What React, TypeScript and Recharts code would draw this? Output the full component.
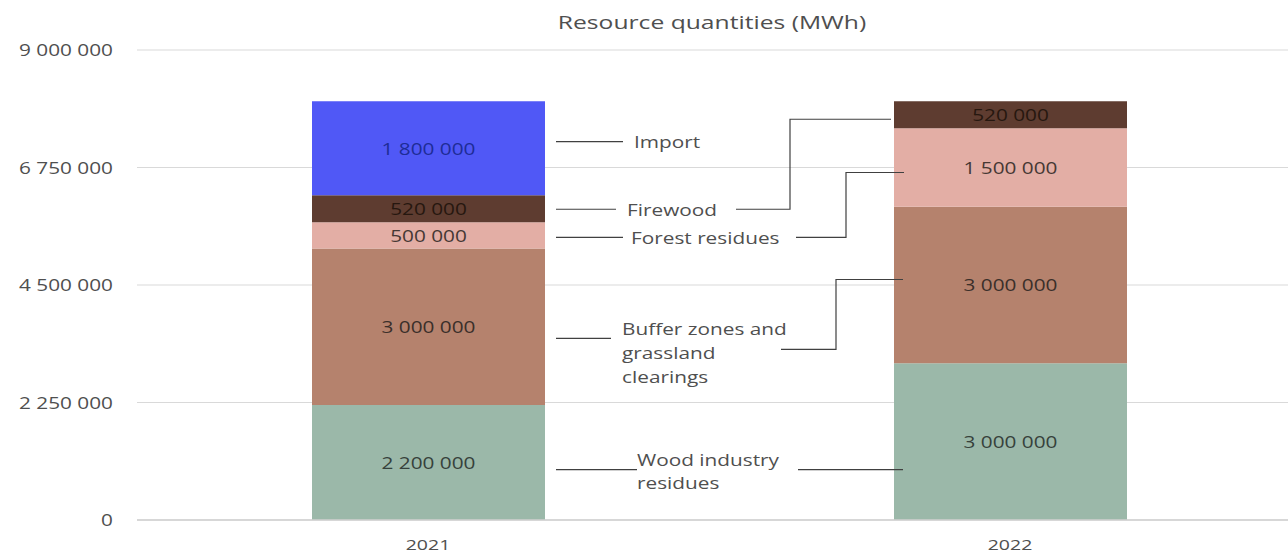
import React from 'react';
import { BarChart, Bar, XAxis, YAxis, CartesianGrid, LabelList } from 'recharts';

// ---------- data ----------
const years = ['2021', '2022'];
const woodIndustry = [2200000, 3000000];
const bufferZones = [3000000, 3000000];
const forestResidues = [500000, 1500000];
const firewood = [520000, 520000];
const importQty = [1800000, 0];
const yTicks = [0, 2250000, 4500000, 6750000, 9000000];
const chartTitle = 'Resource quantities (MWh)';

const seriesKeys = ['wood', 'buffer', 'forest', 'firewood', 'import'];
const seriesValues: Record<string, number[]> = {
  wood: woodIndustry,
  buffer: bufferZones,
  forest: forestResidues,
  firewood: firewood,
  import: importQty,
};
const seriesNames: Record<string, string[]> = {
  wood: ['Wood industry', 'residues'],
  buffer: ['Buffer zones and', 'grassland', 'clearings'],
  forest: ['Forest residues'],
  firewood: ['Firewood'],
  import: ['Import'],
};

const data = years.map((year, i) => ({
  year,
  wood: woodIndustry[i],
  buffer: bufferZones[i],
  forest: forestResidues[i],
  firewood: firewood[i],
  import: importQty[i],
}));

// ---------- styles ----------
const FONT = '"Open Sans", "Liberation Sans", sans-serif';
const SX = 1.3;
const COLORS: Record<string, string> = {
  wood: '#9bb8a9',
  buffer: '#b5826d',
  forest: '#e3aea5',
  firewood: '#5e3c30',
  import: '#5058f6',
};
const VALUE_COLORS: Record<string, string> = {
  wood: '#36413b',
  buffer: '#3a2f2a',
  forest: '#463834',
  firewood: '#26170f',
  import: '#1e2c96',
};
const TEXT_GREY = '#4f4f4f';
const LEADER = '#404040';

type Conn = { startX: number; elbowX: number | null; endX: number; startDy: number; endDy: number };
type Ann = { dy: number; lineEnd: number; textX: number; textDy: number; lineH: number; conn: Conn | null };
const ANNOT: Record<string, Ann> = {
  import: { dy: -6.5, lineEnd: 78, textX: 89, textDy: 0, lineH: 24, conn: null },
  firewood: { dy: 0.5, lineEnd: 71, textX: 82, textDy: 0, lineH: 24, conn: { startX: -158, elbowX: -104, endX: -3, startDy: 0.5, endDy: 4.5 } },
  forest: { dy: 2, lineEnd: 78, textX: 86, textDy: 0, lineH: 24, conn: { startX: -98, elbowX: -48, endX: 10, startDy: 2, endDy: 5 } },
  buffer: { dy: 11.5, lineEnd: 66, textX: 77, textDy: -10, lineH: 24, conn: { startX: -113, elbowX: -58, endX: 9, startDy: 22.5, endDy: -5.5 } },
  wood: { dy: 7, lineEnd: 92, textX: 92, textDy: -10, lineH: 23, conn: { startX: -96, elbowX: null, endX: 9, startDy: 7, endDy: 0 } },
};

const fmt = (n: number) => String(n).replace(/\B(?=(\d{3})+(?!\d))/g, ' ');

const SText = ({ x, y, anchor = 'start', fill = TEXT_GREY, size = 16, sx = SX, children }: any) => (
  <text
    transform={`translate(${x},${y}) scale(${sx},1)`}
    textAnchor={anchor}
    dominantBaseline="central"
    fill={fill}
    fontFamily={FONT}
    fontSize={size}
  >
    {children}
  </text>
);

const makeLabel = (key: string) => (props: any) => {
  const vb = props.viewBox || props;
  const X = Number(vb.x ?? props.x);
  const Y = Number(vb.y ?? props.y);
  const W = Number(vb.width ?? props.width);
  const H = Number(vb.height ?? props.height);
  const v = Number(props.value);
  const index = props.index;
  if (!v || !isFinite(X)) return null;
  const a = ANNOT[key];
  const si = seriesKeys.indexOf(key);
  const els: any[] = [];
  els.push(
    <SText key="v" x={X + W / 2} y={Y + H / 2} anchor="middle" fill={VALUE_COLORS[key]}>
      {fmt(v)}
    </SText>
  );
  if (index === 0) {
    const right = X + W;
    const cy = Y + H / 2 + a.dy;
    els.push(<line key="l" x1={right + 11} x2={right + a.lineEnd} y1={cy} y2={cy} stroke={LEADER} strokeWidth={1.2} />);
    seriesNames[key].forEach((t, k) => {
      els.push(
        <SText key={`t${k}`} x={right + a.textX} y={cy + a.textDy + k * a.lineH}>
          {t}
        </SText>
      );
    });
  } else if (index === 1 && a.conn) {
    const ppu = H / v;
    let below22 = 0;
    let below21 = 0;
    for (let k = 0; k < si; k++) {
      below22 += seriesValues[seriesKeys[k]][1];
      below21 += seriesValues[seriesKeys[k]][0];
    }
    const base = Y + H + below22 * ppu;
    const c21 = base - (below21 + seriesValues[key][0] / 2) * ppu;
    const c22 = Y + H / 2;
    const c = a.conn;
    const sy = c21 + c.startDy;
    let pts: string;
    if (c.elbowX === null) {
      pts = `${X + c.startX},${sy} ${X + c.endX},${sy}`;
    } else {
      const ey = c22 + c.endDy;
      pts = `${X + c.startX},${sy} ${X + c.elbowX},${sy} ${X + c.elbowX},${ey} ${X + c.endX},${ey}`;
    }
    els.push(<polyline key="c" points={pts} fill="none" stroke={LEADER} strokeWidth={1.2} />);
  }
  return <g>{els}</g>;
};

const YTick = (props: any) => {
  const { x, y, payload } = props;
  return (
    <SText x={x - 16} y={y} anchor="end">
      {fmt(payload.value)}
    </SText>
  );
};

const XTick = (props: any) => {
  const { x, y, payload } = props;
  return (
    <SText x={x} y={y + 16} anchor="middle" size={15}>
      {payload.value}
    </SText>
  );
};

export default function App() {
  return (
    <div style={{ position: 'absolute', left: 0, top: 0, width: 1288, height: 554, overflow: 'hidden', background: '#fff' }}>
      <div style={{ position: 'absolute', left: 0, top: 0 }}>
        <BarChart width={1301} height={554} data={data} margin={{ top: 50, right: 0, bottom: 4, left: 0 }} barSize={233}>
          <CartesianGrid vertical={false} stroke="#d9d9d9" strokeWidth={1.2} />
          <XAxis dataKey="year" height={30} axisLine={{ stroke: '#d0d0d0', strokeWidth: 1.5 }} tickLine={false} tick={<XTick />} interval={0} />
          <YAxis
            width={137}
            domain={[0, 9000000]}
            ticks={yTicks}
            axisLine={false}
            tickLine={false}
            tick={<YTick />}
            interval={0}
          />
          {seriesKeys.map((k) => (
            <Bar key={k} dataKey={k} stackId="a" fill={COLORS[k]} isAnimationActive={false}>
              <LabelList dataKey={k} content={makeLabel(k)} />
            </Bar>
          ))}
        </BarChart>
      </div>
      <svg width={1288} height={554} style={{ position: 'absolute', left: 0, top: 0, pointerEvents: 'none' }}>
        <SText x={712} y={22} anchor="middle" size={18} sx={1.37}>
          {chartTitle}
        </SText>
      </svg>
    </div>
  );
}
